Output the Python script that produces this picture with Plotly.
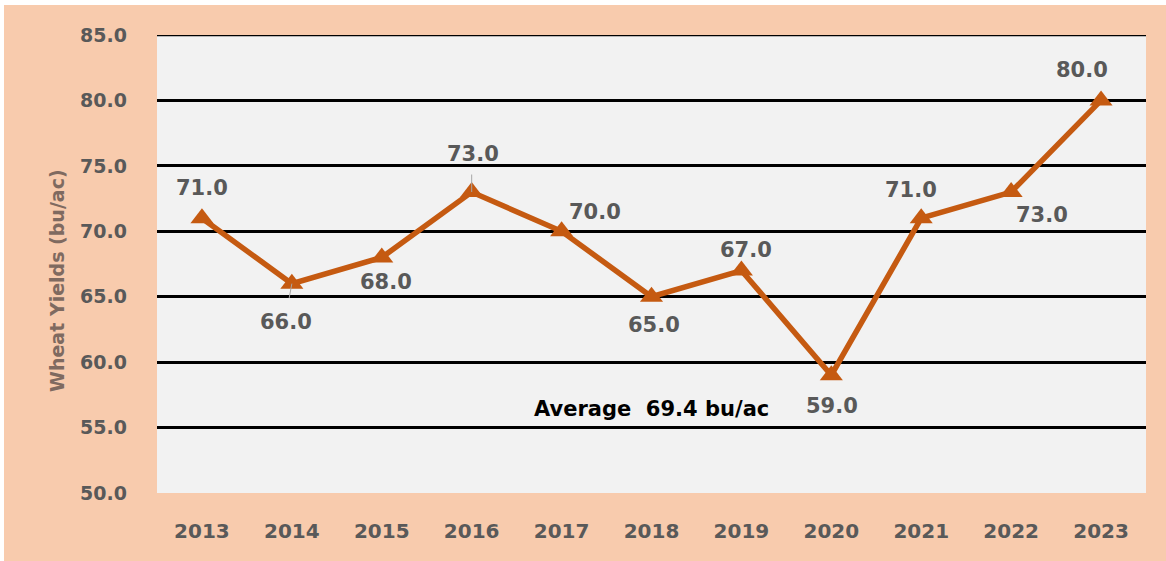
import plotly.graph_objects as go

years = [2013, 2014, 2015, 2016, 2017, 2018, 2019, 2020, 2021, 2022, 2023]
yields = [71.0, 66.0, 68.0, 73.0, 70.0, 65.0, 67.0, 59.0, 71.0, 73.0, 80.0]
y_ticks = [50, 55, 60, 65, 70, 75, 80, 85]
average = sum(yields) / len(yields)

# data-label pixel offsets from each marker (style only)
label_dx = [0, -6, 4, 1, 33, 2, 5, 1, -10, 31, -19]
label_dy = [-30, 38, 25, -38, -19, 28, -21, 31, -28, 23, -30]

FONT = "DejaVu Sans"
GRAY = "#595959"
LINE = "#C55A11"
PEACH = "#F8CBAD"

# plot area geometry in pixels (for background shapes)
L, T, W, H = 157, 35, 989, 458
B = T + H

fig = go.Figure()
fig.add_trace(go.Scatter(
    x=years, y=yields, mode="lines+markers",
    line=dict(color=LINE, width=5.5),
    marker=dict(symbol="triangle-up", size=20, color=LINE),
    cliponaxis=False,
    showlegend=False,
))

for i, (yr, v) in enumerate(zip(years, yields)):
    fig.add_annotation(
        x=yr, y=v, xref="x", yref="y",
        text=f"{v:.1f}", showarrow=False,
        xshift=label_dx[i], yshift=-label_dy[i],
        font=dict(family=FONT, size=21, color=GRAY, weight="bold"),
    )

# thin leader lines for the 2016 and 2014 labels
fig.add_annotation(
    x=years[3], y=yields[3], xref="x", yref="y", text="",
    showarrow=True, arrowhead=0, arrowwidth=1, arrowcolor="#A6A6A6",
    ax=0, ay=-19, startstandoff=0,
)
fig.add_annotation(
    x=years[1], y=yields[1], xref="x", yref="y", text="",
    showarrow=True, arrowhead=0, arrowwidth=1, arrowcolor="#A6A6A6",
    ax=-3, ay=16, startstandoff=0,
)

fig.add_annotation(
    x=years[5], y=56.4, xref="x", yref="y",
    text=f"Average  {average:.1f} bu/ac", showarrow=False,
    font=dict(family=FONT, size=21, color="#000000", weight="bold"),
)

fig.add_annotation(
    x=(57 - L) / W, y=(B - 281) / H, xref="paper", yref="paper",
    xanchor="center", yanchor="middle",
    text="Wheat Yields (bu/ac)", textangle=-90, showarrow=False,
    font=dict(family=FONT, size=19, color="#7F6A60", weight="bold"),
)

fig.update_layout(
    width=1166, height=561,
    margin=dict(l=L, r=1166 - L - W, t=T, b=561 - B),
    paper_bgcolor="white",
    plot_bgcolor="#F2F2F2",
    shapes=[
        dict(type="rect", xref="paper", yref="paper",
             x0=(4 - L) / W, x1=(1166 - L) / W,
             y0=(B - 561) / H, y1=(B - 5) / H,
             fillcolor=PEACH, line=dict(width=0), layer="below"),
        dict(type="rect", xref="paper", yref="paper", x0=0, x1=1, y0=0, y1=1,
             fillcolor="#F2F2F2", line=dict(width=0), layer="below"),
        dict(type="line", xref="paper", yref="y", x0=0, x1=1, y0=85, y1=85,
             line=dict(color="#000000", width=2.5), layer="below"),
    ],
)
fig.update_xaxes(
    range=[2012.5, 2023.5], tickvals=years, ticktext=[str(y) for y in years],
    showgrid=False, showline=False, zeroline=False,
    tickfont=dict(family=FONT, size=20, color=GRAY, weight="bold"),
    ticks="", ticklabelstandoff=24,
)
fig.update_yaxes(
    range=[50, 85], tickvals=y_ticks, ticktext=[f"{v:.1f}" for v in y_ticks],
    showgrid=True, gridcolor="#000000", gridwidth=2.5, zeroline=False, showline=False,
    tickfont=dict(family=FONT, size=19, color=GRAY, weight="bold"),
    ticks="", ticklabelstandoff=29,
)

fig.write_html("out.html", config={"displayModeBar": False},
               post_script="document.body.style.margin='0';document.body.style.overflow='hidden';")
